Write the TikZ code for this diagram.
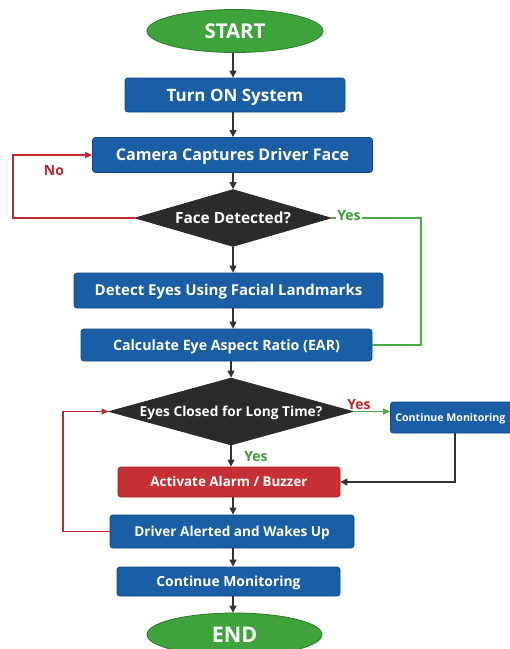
\documentclass[tikz,border=0pt]{standalone}
\usepackage{fontspec}
\setmainfont{Open Sans}
\usetikzlibrary{shapes.geometric,arrows.meta}
\definecolor{boxblue}{HTML}{1A5EA6}
\definecolor{boxblueb}{HTML}{0F4785}
\definecolor{boxred}{HTML}{C62F33}
\definecolor{boxredb}{HTML}{9E1F24}
\definecolor{ovgreen}{HTML}{3EA33B}
\definecolor{ovgreenb}{HTML}{2C7A2A}
\definecolor{diadark}{HTML}{2B2B2B}
\definecolor{lngray}{HTML}{333333}
\definecolor{lnred}{HTML}{C0282D}
\definecolor{lngreen}{HTML}{4BAA45}
\definecolor{txtgreen}{HTML}{3A9A35}
\begin{document}
\begin{tikzpicture}[x=1pt,y=-1pt,
  fs/.style={font=\bfseries\fontsize{#1}{#1}\selectfont,text height={0.72*#1pt},text depth=0pt},
  base/.style={text=white,inner sep=0pt,line width=0.8pt},
  bluebox/.style={base,rectangle,rounded corners=3pt,fill=boxblue,draw=boxblueb},
  redbox/.style={base,rectangle,rounded corners=3pt,fill=boxred,draw=boxredb},
  oval/.style={base,ellipse,fill=ovgreen,draw=ovgreenb},
  dia/.style={base,diamond,fill=diadark,draw=diadark},
  lbl/.style={inner sep=1pt,fs=14},
  arr/.style={draw=lngray,line width=1.3pt,-{Triangle[length=7pt,width=7pt]}},
  redarr/.style={draw=lnred,line width=1.2pt,-{Triangle[length=7pt,width=6pt]}},
  grnarr/.style={draw=lngreen,line width=1.2pt,-{Triangle[length=7pt,width=6pt]}},
  grnline/.style={draw=lngreen,line width=1.2pt},
]
\useasboundingbox (0,0) rectangle (510,649);
\coordinate (ax) at (233,0);
\coordinate (nox) at (13,0);
\coordinate (yesx) at (421,0);
\coordinate (redx) at (63,0);

\node[oval,fs=20.4,minimum width=176pt,minimum height=43pt] (start) at (235,31) {START};
\node[bluebox,fs=17,minimum width=220pt,minimum height=34pt] (turnon) at (235,95) {Turn ON System};
\node[bluebox,fs=16.1,minimum width=280pt,minimum height=35pt] (camera) at (232.5,155) {Camera Captures Driver Face};
\node[dia,fs=15.4,minimum width=196pt,minimum height=57pt,aspect=3.4] (d1) at (233,218) {Face Detected?};
\node[bluebox,fs=15,minimum width=309pt,minimum height=35pt] (detect) at (228.5,290.5) {Detect Eyes Using Facial Landmarks};
\node[bluebox,fs=14.2,minimum width=291pt,minimum height=32pt] (ear) at (226.5,345) {Calculate Eye Aspect Ratio (EAR)};
\node[dia,fs=13.7,minimum width=244pt,minimum height=67pt,aspect=3.6] (d2) at (231,411.5) {Eyes Closed for Long Time?};
\node[bluebox,fs=10.6,minimum width=126pt,minimum height=31pt,anchor=west] (cm2) at (390,417.5) {\hspace*{-6pt}Continue Monitoring};
\node[redbox,fs=13.4,minimum width=222pt,minimum height=30pt] (alarm) at (229,482) {Activate Alarm / Buzzer};
\node[bluebox,fs=13.6,minimum width=244pt,minimum height=33pt] (driver) at (232,531.5) {Driver Alerted and Wakes Up};
\node[bluebox,fs=13.9,minimum width=223pt,minimum height=29pt] (monitor) at (228.5,581.5) {Continue Monitoring};
\node[oval,fs=21.5,minimum width=175pt,minimum height=43pt] (end) at (234.5,634.5) {END};

\draw[arr] (start.south -| ax) -- (turnon.north -| ax);
\draw[arr] (turnon.south -| ax) -- (camera.north -| ax);
\draw[arr] (camera.south -| ax) -- (d1.north);
\draw[arr] (d1.south) -- (detect.north -| d1.south);
\draw[arr] (detect.south -| ax) -- (ear.north -| ax);
\draw[arr] (ear.south -| d2.north) -- (d2.north);
\draw[arr] (d2.south) -- (alarm.north -| d2.south);
\draw[arr] (alarm.south -| ax) -- (driver.north -| ax);
\draw[arr] (driver.south -| ax) -- (monitor.north -| ax);
\draw[arr] (monitor.south -| ax) -- (end.north -| ax);

\draw[redarr] (d1.west) -- (nox |- d1.west) |- (camera.west);
\draw[grnline] (d1.east) -- (yesx |- d1.east) |- (ear.east);
\draw[grnarr] (d2.east) -- (cm2.west |- d2.east);
\draw[arr] (cm2.south -| 455,0) |- (alarm.east);
\draw[redarr] (driver.west) -| (redx |- d2.west) -- (d2.west);

\node[lbl,text=lnred] (nolbl) at (54,170) {No};
\node[lbl,text=txtgreen,fill=white] (yes1) at (349,215) {Yes};
\node[lbl,text=lnred] (yes2) at (359,404) {Yes};
\node[lbl,text=txtgreen] (yes3) at (256,456) {Yes};
\end{tikzpicture}
\end{document}
